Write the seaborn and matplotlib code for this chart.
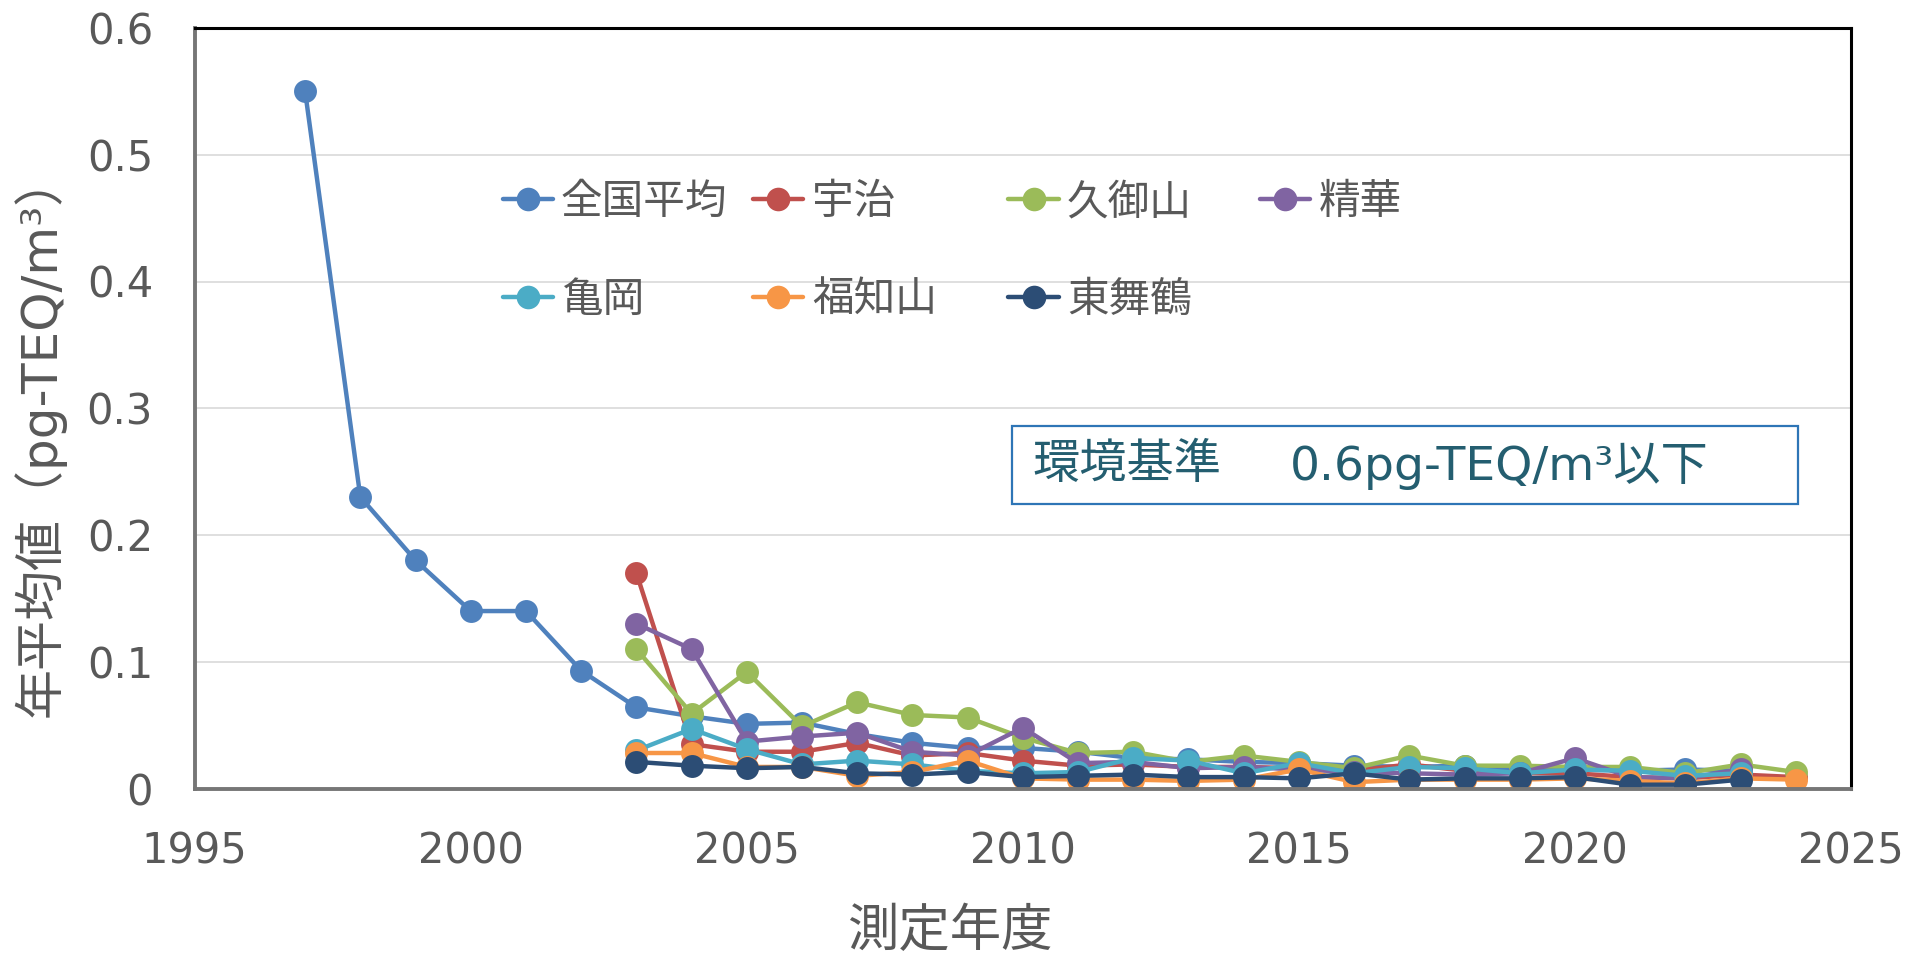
import matplotlib
matplotlib.use("Agg")
import matplotlib.pyplot as plt
from matplotlib.lines import Line2D
from matplotlib.patches import Rectangle
from matplotlib.ticker import FuncFormatter
import seaborn as sns
import pandas as pd

# ---------------- data ----------------
national_years = list(range(1997, 2024))
national = [0.55, 0.23, 0.18, 0.14, 0.14, 0.093, 0.064, 0.057, 0.051, 0.052,
            0.043, 0.036, 0.032, 0.032, 0.029, 0.024, 0.023, 0.021, 0.020, 0.018,
            0.017, 0.018, 0.015, 0.015, 0.014, 0.015, 0.014]

local_years = list(range(2003, 2025))
uji = [0.17, 0.035, 0.029, 0.029, 0.036, 0.026, 0.028, 0.022, 0.018, 0.019, 0.017,
       0.017, 0.016, 0.014, 0.019, 0.014, 0.012, 0.012, 0.009, 0.008, 0.011, 0.009]
kumiyama = [0.11, 0.059, 0.092, 0.049, 0.068, 0.058, 0.056, 0.040, 0.028, 0.029, 0.021,
            0.026, 0.021, 0.016, 0.026, 0.018, 0.018, 0.017, 0.017, 0.012, 0.019, 0.013]
seika = [0.13, 0.11, 0.037, 0.041, 0.044, 0.029, 0.026, 0.048, 0.020, 0.021, 0.016,
         0.017, 0.015, 0.013, 0.012, 0.011, 0.012, 0.024, 0.009, 0.008, 0.015, None]
kameoka = [0.030, 0.047, 0.031, 0.019, 0.022, 0.019, 0.014, 0.012, 0.013, 0.024, 0.022,
           0.012, 0.020, 0.012, 0.017, 0.016, 0.012, 0.015, 0.014, 0.010, 0.012, None]
fukuchiyama = [0.028, 0.028, 0.017, 0.017, 0.010, 0.013, 0.022, 0.008, 0.007, 0.007, 0.006,
               0.007, 0.015, 0.005, 0.007, 0.007, 0.007, 0.008, 0.006, 0.004, 0.008, 0.007]
higashimaizuru = [0.021, 0.018, 0.016, 0.017, 0.012, 0.011, 0.013, 0.009, 0.010, 0.011, 0.009,
                  0.009, 0.008, 0.012, 0.007, 0.008, 0.008, 0.009, 0.003, 0.003, 0.007, None]

series_names = ["全国平均", "宇治", "久御山", "精華", "亀岡", "福知山", "東舞鶴"]
series_colors = ["#4F81BD", "#C0504D", "#9BBB59", "#8064A2", "#4BACC6", "#F79646", "#2C4D75"]

x_ticks = [1995, 2000, 2005, 2010, 2015, 2020, 2025]
y_ticks = [0, 0.1, 0.2, 0.3, 0.4, 0.5, 0.6]

x_label = "測定年度"
y_label = "年平均値（pg-TEQ/m³）"
box_label1 = "環境基準"
box_label2 = "0.6pg-TEQ/m³以下"

# ---------------- long-form table ----------------
rows = []
for y, v in zip(national_years, national):
    rows.append(("全国平均", y, v))
for name, vals in zip(series_names[1:], [uji, kumiyama, seika, kameoka, fukuchiyama, higashimaizuru]):
    for y, v in zip(local_years, vals):
        if v is not None:
            rows.append((name, y, v))
df = pd.DataFrame(rows, columns=["site", "year", "value"])

# ---------------- style ----------------
sns.set_theme(style="white")
plt.rcParams["font.family"] = ["DejaVu Sans", "Noto Sans CJK JP"]
text_grey = "#595959"

W, H = 1908, 958
fig = plt.figure(figsize=(W / 100, H / 100), dpi=100)
L, R, T, B = 194.7, 1851, 28, 788.5
ax = fig.add_axes([L / W, 1 - B / H, (R - L) / W, (B - T) / H])

palette = dict(zip(series_names, series_colors))
sns.lineplot(data=df, x="year", y="value", hue="site", hue_order=series_names,
             palette=palette, marker="o", markersize=16.5, markeredgewidth=0,
             linewidth=3.2, legend=False, errorbar=None, ax=ax)

ax.set_xlim(1995, 2025)
ax.set_ylim(0, 0.6)
ax.set_xticks(x_ticks)
ax.set_yticks(y_ticks)
ax.yaxis.set_major_formatter(FuncFormatter(lambda v, p: f"{v:g}"))
ax.tick_params(axis="both", length=0, labelsize=30, labelcolor=text_grey)
ax.tick_params(axis="y", pad=30)
ax.tick_params(axis="x", pad=30)
ax.set_xlabel("")
ax.set_ylabel("")
ax.yaxis.grid(True, color="#D9D9D9", linewidth=1.2)
ax.xaxis.grid(False)
ax.set_axisbelow(True)
for s in ["top", "right"]:
    ax.spines[s].set_color("black")
    ax.spines[s].set_linewidth(2.2)
for s in ["left", "bottom"]:
    ax.spines[s].set_color("#767676")
    ax.spines[s].set_linewidth(2.8)

# axis titles
fig.text(950 / W, 1 - 932 / H, x_label, fontsize=37, color=text_grey, ha="center", va="center")
fig.text(39 / W, 1 - 435 / H, y_label, fontsize=36, color=text_grey, ha="center", va="center",
         rotation=90)

# legend (4 columns anchored separately)
handle_map = {n: Line2D([], [], color=c, marker="o", markersize=17, markeredgewidth=0, linewidth=3.2)
              for n, c in zip(series_names, series_colors)}
columns = [(["全国平均", "亀岡"], 502.5, 251),
           (["宇治", "福知山"], 753.5, 251),
           (["久御山", "東舞鶴"], 1008.5, 251),
           (["精華"], 1260.5, 202)]
for names, xl, yc in columns:
    leg = fig.legend([handle_map[n] for n in names], names, loc="center left",
                     bbox_to_anchor=(xl / W, 1 - yc / H), bbox_transform=fig.transFigure,
                     frameon=False, fontsize=30, labelcolor=text_grey, borderpad=0,
                     borderaxespad=0, handlelength=1.2, handletextpad=0.2, labelspacing=1.34)

# environmental standard box
fig.patches.append(Rectangle((1012 / W, 1 - 504 / H), 786 / W, 78 / H, transform=fig.transFigure,
                             facecolor="white", edgecolor="#2E75B6", linewidth=1.6, zorder=5))
fig.text(1032 / W, 1 - 466 / H, box_label1, fontsize=34, color="#245E70", ha="left", va="center", zorder=6)
fig.text(1290 / W, 1 - 466 / H, box_label2, fontsize=34, color="#245E70", ha="left", va="center", zorder=6)

fig.savefig("out.png", dpi=100, facecolor="white")
